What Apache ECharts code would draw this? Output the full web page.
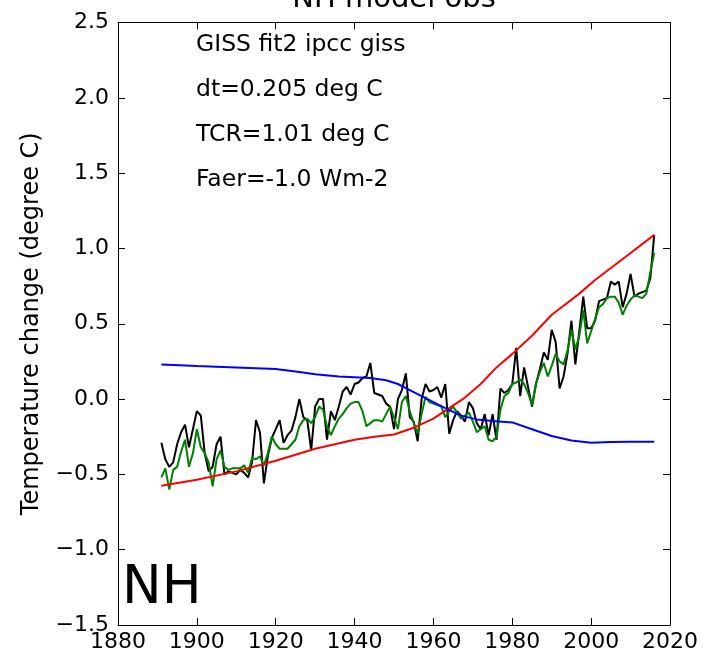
<!DOCTYPE html>
<html>
<head>
<meta charset="utf-8">
<script src="https://cdn.jsdelivr.net/npm/echarts@6/dist/echarts.min.js"></script>
<style>
html,body{margin:0;padding:0;background:#fff;}
#chart{width:703px;height:657px;}
</style>
</head>
<body>
<div id="chart"></div>
<script>
// Years of the annual observed / fitted series
const startYear = 1891;
const obsGISS = [
-0.29,-0.40,-0.45,-0.42,-0.30,-0.22,-0.17,-0.32,-0.20,-0.08,
-0.11,-0.36,-0.48,-0.45,-0.30,-0.25,-0.50,-0.48,-0.49,-0.50,
-0.47,-0.49,-0.52,-0.42,-0.14,-0.22,-0.56,-0.38,-0.26,-0.20,
-0.14,-0.29,-0.24,-0.21,-0.12,0.00,-0.12,-0.14,-0.34,-0.05,
0.00,0.00,-0.27,-0.08,-0.14,-0.05,0.05,0.08,0.03,0.10,
0.11,0.14,0.15,0.24,0.04,0.03,0.02,-0.03,-0.05,-0.20,
0.00,0.06,0.17,-0.12,-0.15,-0.28,0.00,0.10,0.05,0.06,
0.08,0.01,0.10,-0.23,-0.14,-0.08,-0.11,-0.15,-0.02,-0.06,
-0.16,-0.20,-0.10,-0.24,-0.10,-0.27,0.07,0.04,0.06,0.10,
0.34,0.02,0.21,0.08,-0.05,0.10,0.20,0.31,0.26,0.46,
0.38,0.07,0.15,0.30,0.52,0.23,0.45,0.68,0.47,0.47,
0.52,0.65,0.66,0.67,0.78,0.76,0.78,0.61,0.70,0.83,
0.68,0.70,0.71,0.72,0.80,1.09
];
const fitModel = [
-0.52,-0.46,-0.60,-0.47,-0.45,-0.35,-0.27,-0.45,-0.36,-0.20,
-0.32,-0.36,-0.42,-0.58,-0.40,-0.34,-0.45,-0.47,-0.46,-0.46,
-0.46,-0.44,-0.49,-0.39,-0.40,-0.38,-0.44,-0.36,-0.25,-0.30,
-0.33,-0.33,-0.33,-0.30,-0.27,-0.18,-0.14,-0.13,-0.16,-0.12,
-0.05,-0.07,-0.18,-0.24,-0.18,-0.13,-0.10,-0.06,-0.03,-0.02,
-0.02,-0.08,-0.18,-0.16,-0.14,-0.14,-0.15,-0.10,-0.05,-0.12,
-0.20,-0.02,0.02,-0.08,-0.16,-0.23,-0.10,0.015,-0.02,-0.03,
-0.04,-0.05,-0.12,-0.08,-0.05,-0.09,-0.13,-0.11,-0.09,-0.15,
-0.22,-0.20,-0.18,-0.27,-0.28,-0.25,-0.07,0.02,0.04,0.10,
0.11,0.13,0.10,0.04,-0.04,0.10,0.18,0.24,0.15,0.22,
0.30,0.25,0.23,0.32,0.46,0.33,0.42,0.59,0.37,0.45,
0.53,0.61,0.63,0.67,0.68,0.68,0.64,0.56,0.62,0.66,
0.69,0.68,0.67,0.70,0.84,0.97
];
// Smooth components, given at sampled years
const ghgYears = [1891,1900,1910,1920,1930,1940,1945,1950,1955,1960,1964,1968,1972,1976,1980,1985,1990,1993,1997,2001,2005,2010,2016];
const ghgResp  = [-0.575,-0.535,-0.48,-0.41,-0.33,-0.27,-0.25,-0.235,-0.19,-0.13,-0.06,0.01,0.10,0.21,0.30,0.42,0.56,0.62,0.70,0.79,0.87,0.97,1.09];
const aerYears = [1891,1900,1910,1920,1926,1930,1936,1944,1948,1951,1954,1957,1960,1963,1967,1971,1975,1980,1985,1990,1995,2000,2005,2010,2016];
const aerResp  = [0.23,0.22,0.21,0.20,0.18,0.165,0.15,0.14,0.125,0.10,0.06,0.02,-0.02,-0.06,-0.11,-0.135,-0.145,-0.155,-0.20,-0.245,-0.275,-0.29,-0.285,-0.283,-0.283];
const xTicks = [1880,1900,1920,1940,1960,1980,2000,2020];
const yTicks = [-1.5,-1.0,-0.5,0.0,0.5,1.0,1.5,2.0,2.5];
const titleText = 'NH model obs';
const annotations = ['GISS fit2 ipcc giss','dt=0.205 deg C','TCR=1.01 deg C','Faer=-1.0 Wm-2'];
const panelLabel = 'NH';
const yAxisTitle = 'Temperature change (degree C)';

const annual = arr => arr.map((v,i)=>[startYear+i, v]);
const paired = (xs, ys) => xs.map((x,i)=>[x, ys[i]]);
const fmtY = v => (v < 0 ? '\u2212' : '') + Math.abs(v).toFixed(1);

const FONT = 'DejaVu Sans';
const chart = echarts.init(document.getElementById('chart'), null, {renderer:'canvas'});
const axisLineStyle = {color:'#000', width:1};
const tick = {show:true, inside:true, length:7, lineStyle:{color:'#000', width:1}};

chart.setOption({
  animation:false,
  backgroundColor:'#fff',
  grid:{left:118, right:33, top:22.5, bottom:32, containLabel:false},
  xAxis:[
    {type:'value', min:xTicks[0], max:xTicks[xTicks.length-1], interval:20,
     axisLine:{show:true, onZero:false, lineStyle:axisLineStyle}, axisTick:tick, splitLine:{show:false},
     axisLabel:{fontFamily:FONT, fontSize:22, color:'#000', margin:6, formatter:v=>String(v)}},
    {type:'value', position:'top', min:xTicks[0], max:xTicks[xTicks.length-1], interval:20,
     axisLine:{show:true, onZero:false, lineStyle:axisLineStyle}, axisTick:tick, splitLine:{show:false}, axisLabel:{show:false}}
  ],
  yAxis:[
    {type:'value', min:yTicks[0], max:yTicks[yTicks.length-1], interval:0.5,
     name:yAxisTitle, nameLocation:'middle', nameGap:74, nameRotate:90,
     nameTextStyle:{fontFamily:FONT, fontSize:24, color:'#000'},
     axisLine:{show:true, onZero:false, lineStyle:axisLineStyle}, axisTick:tick, splitLine:{show:false},
     axisLabel:{fontFamily:FONT, fontSize:22, color:'#000', margin:9, formatter:fmtY}},
    {type:'value', position:'right', min:yTicks[0], max:yTicks[yTicks.length-1], interval:0.5,
     axisLine:{show:true, onZero:false, lineStyle:axisLineStyle}, axisTick:tick, splitLine:{show:false}, axisLabel:{show:false}}
  ],
  series:[
    {type:'line', name:'obs', data:annual(obsGISS), showSymbol:false, lineStyle:{color:'#000', width:2}, z:2},
    {type:'line', name:'fit', data:annual(fitModel), showSymbol:false, lineStyle:{color:'#008000', width:2}, z:3},
    {type:'line', name:'ghg', data:paired(ghgYears, ghgResp), showSymbol:false, lineStyle:{color:'#ff0000', width:2}, z:4},
    {type:'line', name:'aer', data:paired(aerYears, aerResp), showSymbol:false, lineStyle:{color:'#0000ff', width:2}, z:5}
  ],
  graphic:[
    {type:'text', x:394, y:14, style:{text:titleText, fontFamily:FONT, fontSize:29, fill:'#000', align:'center', verticalAlign:'bottom'}},
    ...annotations.map((t,i)=>({type:'text', left:196, top:33 + i*45,
       style:{text:t, fontFamily:FONT, fontSize:23.5, fill:'#000'}})),
    {type:'text', left:122, top:563, style:{text:panelLabel, fontFamily:FONT, fontSize:53, fill:'#000'}}
  ]
});
</script>
</body>
</html>
